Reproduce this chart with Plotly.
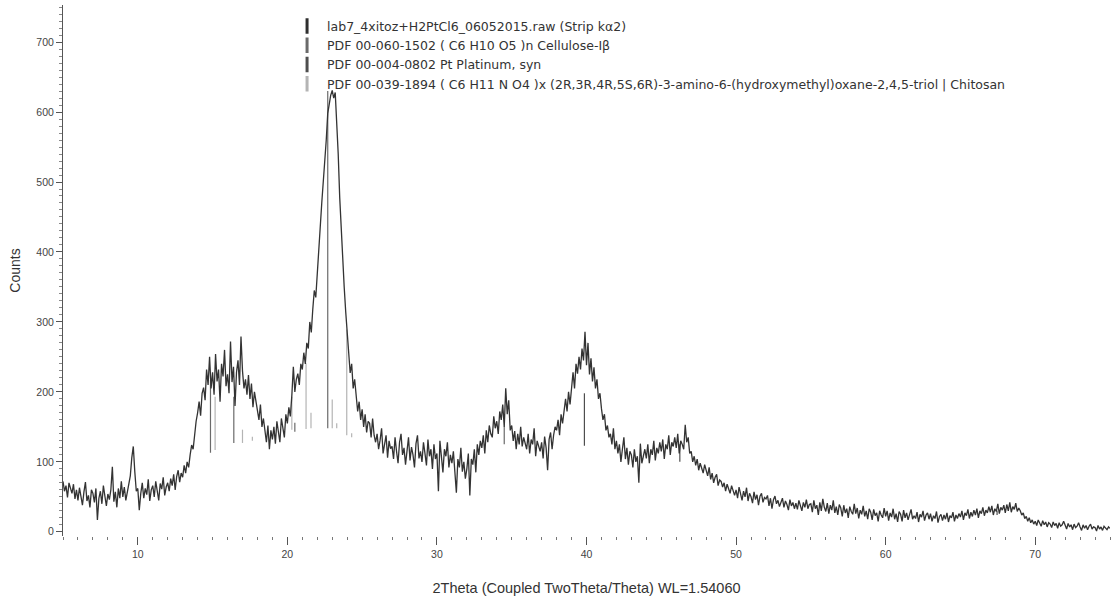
import numpy as np
import plotly.graph_objects as go

# ---------------- data ----------------
start_2theta = 5.0
step_2theta = 0.1

counts = [
    72, 58, 66, 49, 70, 61, 55, 68, 47, 60,          # 5.0
    45, 63, 50, 38, 57, 71, 44, 52, 35, 60,          # 6.0
    55, 42, 62, 17, 48, 58, 40, 66, 51, 37,          # 7.0
    54, 46, 60, 93, 43, 57, 35, 62, 48, 72,          # 8.0
    50, 64, 45, 58, 68, 80, 106, 122, 86, 58,        # 9.0
    62, 31, 55, 70, 48, 62, 53, 75, 44, 60,          # 10.0
    66, 50, 72, 58, 45, 69, 61, 78, 52, 64,          # 11.0
    70, 58, 76, 66, 82, 60, 79, 88, 71, 84,          # 12.0
    78, 95, 84, 100, 92, 110, 124, 118, 142, 158,    # 13.0
    170, 186, 166, 198, 206, 188, 232, 210, 250, 205,  # 14.0
    228, 196, 254, 215, 232, 186, 240, 222, 260, 208,  # 15.0
    225, 198, 272, 214, 236, 180, 228, 245, 210, 279,  # 16.0
    230, 205, 218, 196, 224, 190, 212, 178, 200, 185,  # 17.0
    176, 160, 182, 150, 162, 140, 128, 152, 118, 145,  # 18.0
    132, 150, 126, 158, 140, 128, 162, 145, 135, 168,  # 19.0
    155, 178, 165, 195, 236, 200, 218, 226, 210, 240,  # 20.0
    232, 256, 240, 270, 262, 300, 285, 318, 345, 335,  # 21.0
    372, 402, 431, 470, 500, 527, 560, 598, 615, 624,  # 22.0
    631, 620, 628, 590, 540, 478, 430, 392, 350, 315,  # 23.0
    288, 262, 227, 240, 205, 218, 193, 172, 186, 160,  # 24.0
    175, 150, 168, 142, 158, 155, 135, 162, 138, 128,  # 25.0
    140, 118, 131, 148, 112, 125, 138, 106, 130, 119,  # 26.0
    122, 104, 135, 115, 98, 128, 140, 110, 120, 96,    # 27.0
    118, 135, 102, 121, 110, 92, 126, 138, 105, 115,   # 28.0
    100, 128, 112, 95, 132, 108, 118, 90, 125, 104,    # 29.0
    112, 58, 130, 102, 85, 118, 108, 128, 92, 110,     # 30.0
    98, 115, 80, 56, 104, 92, 120, 86, 100, 76,        # 31.0
    90, 112, 52, 104, 96, 118, 85, 125, 110, 130,      # 32.0
    120, 138, 112, 145, 128, 152, 140, 135, 165, 148,  # 33.0
    158, 140, 172, 160, 182, 150, 205, 168, 188, 145,  # 34.0
    152, 130, 144, 118, 140, 125, 150, 122, 135, 128,  # 35.0
    118, 140, 112, 132, 125, 148, 108, 130, 122, 115,  # 36.0
    128, 105, 136, 120, 88, 132, 142, 118, 138, 150,   # 37.0
    145, 160, 138, 168, 155, 178, 190, 172, 200, 182,  # 38.0
    210, 228, 205, 240, 226, 250, 232, 262, 245, 286,  # 39.0
    238, 270, 225, 248, 215, 235, 205, 218, 190, 198,  # 40.0
    176, 160, 168, 145, 152, 135, 140, 125, 148, 118,  # 41.0
    130, 112, 125, 100, 118, 135, 104, 120, 96, 115,   # 42.0
    110, 92, 118, 100, 108, 70, 126, 98, 108, 118,     # 43.0
    105, 125, 98, 118, 110, 130, 102, 120, 112, 128,   # 44.0
    115, 132, 104, 125, 118, 138, 110, 128, 122, 135,  # 45.0
    120, 140, 112, 130, 125, 118, 153, 128, 135, 112,  # 46.0
    115, 100, 108, 95, 104, 88, 98, 92, 84, 96,        # 47.0
    86, 80, 92, 75, 84, 70, 78, 82, 66, 74,            # 48.0
    72, 64, 70, 58, 68, 62, 55, 66, 60, 52,            # 49.0
    60, 48, 64, 52, 45, 58, 50, 63, 44, 55,            # 50.0
    50, 41, 57, 46, 53, 38, 51, 55, 42, 49,            # 51.0
    47, 52, 37, 48, 33, 46, 51, 40, 45, 36,            # 52.0
    43, 48, 35, 44, 39, 31, 46, 37, 42, 33,            # 53.0
    41, 32, 45, 37, 30, 42, 35, 46, 33, 39,            # 54.0
    40, 28, 45, 33, 38, 24, 42, 30, 47, 35,            # 55.0
    29, 41, 26, 38, 31, 45, 27, 36, 24, 39,            # 56.0
    34, 22, 38, 27, 33, 20, 36, 29, 25, 40,            # 57.0
    26, 34, 19, 31, 25, 37, 22, 30, 18, 33,            # 58.0
    28, 17, 32, 23, 27, 15, 30, 24, 20, 34,            # 59.0
    22, 30, 16, 27, 21, 33, 18, 26, 14, 29,            # 60.0
    25, 15, 31, 20, 27, 17, 24, 32, 18, 23,            # 61.0
    19, 28, 14, 25, 21, 30, 16, 24, 27, 18,            # 62.0
    26, 15, 23, 19, 29, 13, 22, 25, 16, 24,            # 63.0
    18, 27, 14, 23, 20, 28, 15, 24, 19, 26,            # 64.0
    21, 30, 17, 27, 23, 32, 19, 28, 22, 31,            # 65.0
    24, 33, 20, 30, 26, 35, 23, 31, 27, 36,            # 66.0
    28, 37, 24, 33, 29, 40, 26, 35, 31, 38,            # 67.0
    27, 39, 30, 42, 28, 36, 32, 41, 29, 34,            # 68.0
    30, 24, 27, 19, 22, 15, 20, 13, 17, 11,            # 69.0
    15, 9, 17, 12, 8, 16, 10, 14, 7, 13,               # 70.0
    11, 6, 14, 9, 12, 5, 13, 8, 10, 15,                # 71.0
    9, 4, 12, 7, 10, 3, 11, 6, 8, 13,                  # 72.0
    7, 2, 10, 5, 9, 3, 8, 11, 4, 7,                    # 73.0
    6, 1, 9, 4, 7, 2, 8, 5, 3, 7,                      # 74.0
    5,                                                 # 75.0
]
two_theta = np.round(start_2theta + step_2theta * np.arange(len(counts)), 2)

# reference stick patterns: position, base (background level), top
cell_pos = [14.86, 16.42, 20.50, 22.70, 34.50]
cell_base = [113, 127, 143, 148, 125]
cell_top = [217, 193, 156, 630, 150]

pt_pos = [39.86, 46.24, 67.45]
pt_base = [123, 100, 24]
pt_top = [198, 125, 30]

chit_pos = [15.17, 17.00, 17.66, 20.30, 21.25, 21.58, 23.00, 23.30, 23.97, 24.30]
chit_base = [117, 127, 130, 146, 147, 148, 148, 148, 138, 135]
chit_top = [193, 146, 136, 193, 241, 170, 189, 155, 289, 141]

legend_names = [
    "lab7_4xitoz+H2PtCl6_06052015.raw (Strip kα2)",
    "PDF 00-060-1502 ( C6 H10 O5 )n Cellulose-Iβ",
    "PDF 00-004-0802 Pt Platinum, syn",
    "PDF 00-039-1894 ( C6 H11 N O4 )x (2R,3R,4R,5S,6R)-3-amino-6-(hydroxymethyl)oxane-2,4,5-triol | Chitosan",
]
legend_colors = ["#2e2e2e", "#6a6a6a", "#4e4e4e", "#b4b4b4"]

x_title = "2Theta (Coupled TwoTheta/Theta) WL=1.54060"
y_title = "Counts"


def sticks(pos, base, top):
    xs, ys = [], []
    for p, b, t in zip(pos, base, top):
        xs += [p, p, None]
        ys += [b, t, None]
    return xs, ys


fig = go.Figure()

for (pos, base, top), col in zip(
    [(cell_pos, cell_base, cell_top), (pt_pos, pt_base, pt_top), (chit_pos, chit_base, chit_top)],
    [legend_colors[1], legend_colors[2], legend_colors[3]],
):
    sx, sy = sticks(pos, base, top)
    fig.add_trace(go.Scatter(x=sx, y=sy, mode="lines", line=dict(color=col, width=1.2),
                             showlegend=False, hoverinfo="skip"))

fig.add_trace(go.Scatter(x=two_theta, y=counts, mode="lines",
                         line=dict(color="#333333", width=1.3), showlegend=False))

# legend entries with vertical-bar symbols
for name, col in zip(legend_names, legend_colors):
    fig.add_trace(go.Scatter(x=[None], y=[None], mode="markers", name=name,
                             marker=dict(symbol="line-ns-open", size=11, color=col,
                                         line=dict(color=col, width=3))))

fig.update_layout(
    width=1113, height=608,
    margin=dict(l=63, r=3, t=5, b=72),
    paper_bgcolor="white", plot_bgcolor="white",
    font=dict(family="Liberation Sans, Arial, sans-serif", color="#333333"),
    legend=dict(x=0.214, y=0.988, xanchor="left", yanchor="top",
                bgcolor="rgba(0,0,0,0)", borderwidth=0, itemwidth=30,
                font=dict(family="DejaVu Sans, sans-serif", size=12.5, color="#333333"),
                tracegroupgap=0),
    xaxis=dict(range=[5, 75], dtick=10, tick0=0, ticks="outside", ticklen=8,
               tickcolor="#555", tickfont=dict(size=10.5, color="#444"),
               showgrid=False, zeroline=False, showline=False,
               minor=dict(dtick=1, ticks="outside", ticklen=3, tickcolor="#777", showgrid=False),
               title=dict(text=x_title, font=dict(size=14.5, color="#333"), standoff=24)),
    yaxis=dict(range=[-6, 753], dtick=100, tick0=0, ticks="outside", ticklen=6,
               tickcolor="#555", tickfont=dict(size=10.5, color="#444"),
               showgrid=False, zeroline=False, showline=True, linecolor="#555", linewidth=1,
               minor=dict(dtick=10, ticks="outside", ticklen=3, tickcolor="#888", showgrid=False),
               title=dict(text=y_title, font=dict(size=14, color="#333"), standoff=12)),
)

fig.write_html("out.html")
